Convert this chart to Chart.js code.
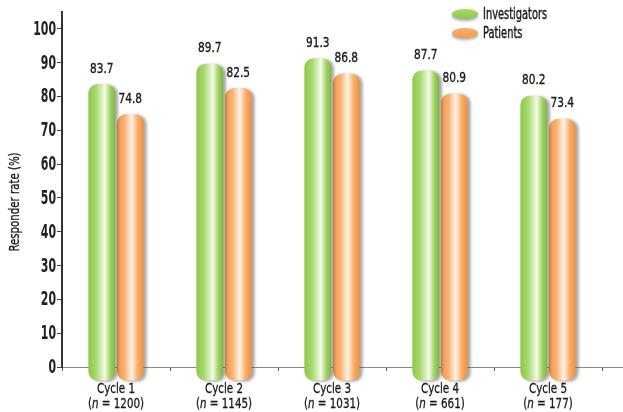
<!DOCTYPE html>
<html>
<head>
<meta charset="utf-8">
<script src="https://cdn.jsdelivr.net/npm/chart.js@4/dist/chart.umd.min.js"></script>
<style>
  html, body { margin: 0; padding: 0; background: #fff; }
  #wrap { width: 623px; height: 412px; position: relative; }
</style>
</head>
<body>
<div id="wrap"><canvas id="c" width="623" height="412"></canvas></div>
<script>
// Responder rates per treatment cycle
const cycles = ['Cycle 1', 'Cycle 2', 'Cycle 3', 'Cycle 4', 'Cycle 5'];
const sampleSizes = [1200, 1145, 1031, 661, 177];
const investigators = [83.7, 89.7, 91.3, 87.7, 80.2];
const patients = [74.8, 82.5, 86.8, 80.9, 73.4];
const yTicks = [0, 10, 20, 30, 40, 50, 60, 70, 80, 90, 100];
const yTitle = 'Responder rate (%)';

const FONT = "'DejaVu Sans Condensed', 'DejaVu Sans', sans-serif";

// Draws text squeezed horizontally to get a narrow, tall letterform
function narrowText(c, text, x, y, font, sx, align, color, weight) {
  c.save();
  c.font = font;
  c.fillStyle = color || '#222';
  c.strokeStyle = color || '#222';
  c.textBaseline = 'middle';
  c.textAlign = 'left';
  const w = c.measureText(text).width * sx;
  let x0 = x;
  if (align === 'center') x0 = x - w / 2;
  else if (align === 'right') x0 = x - w;
  c.translate(x0, y);
  c.scale(sx, 1);
  c.fillText(text, 0, 0);
  if (weight) { c.lineWidth = weight; c.strokeText(text, 0, 0); }
  c.restore();
  return w;
}
function narrowWidth(c, text, font, sx) {
  c.save(); c.font = font; const w = c.measureText(text).width * sx; c.restore(); return w;
}

// Horizontal shading that gives each bar a cylindrical look
function tubeFill(ctx, stops, fallback) {
  const el = ctx.element;
  if (!el || el.x === undefined || !isFinite(el.x) || !el.width) return fallback;
  const c = ctx.chart.ctx;
  const x0 = el.x - el.width / 2, x1 = el.x + el.width / 2;
  const g = c.createLinearGradient(x0, 0, x1, 0);
  stops.forEach(s => g.addColorStop(s[0], s[1]));
  return g;
}
const greenStops = [[0, '#8cc84a'], [0.3, '#a9da70'], [0.62, '#f3fae9'], [0.82, '#a3d466'], [1, '#7cb93c']];
const orangeStops = [[0, '#f59a45'], [0.28, '#f8b172'], [0.55, '#fff3e6'], [0.78, '#f8ad68'], [1, '#ef913c']];

// Soft shadow to the right of the bars
const barShadow = {
  id: 'barShadow',
  beforeDatasetsDraw(chart) {
    const c = chart.ctx;
    c.save();
    c.shadowColor = 'rgba(60,60,60,0.45)';
    c.shadowOffsetX = 3;
    c.shadowOffsetY = 1;
    c.shadowBlur = 3;
  },
  afterDatasetsDraw(chart) { chart.ctx.restore(); }
};

// Tick labels, axis title, value labels, category labels and legend
const decorations = {
  id: 'decorations',
  afterDraw(chart) {
    const c = chart.ctx;
    const area = chart.chartArea;
    const ink = '#1a1a1a';
    c.save();
    // continue the baseline to the right edge
    c.strokeStyle = '#8a8a8a';
    c.lineWidth = 1;
    c.beginPath();
    c.moveTo(area.right, area.bottom + 0.5);
    c.lineTo(chart.width, area.bottom + 0.5);
    c.stroke();

    // y tick labels
    const ys = chart.scales.y;
    ys.ticks.forEach(t => {
      narrowText(c, String(t.value), area.left - 6, ys.getPixelForValue(t.value) + 1,
        'bold 19px ' + FONT, 0.64, 'right', '#222');
    });

    // y axis title
    c.save();
    c.translate(15, 202);
    c.rotate(-Math.PI / 2);
    narrowText(c, yTitle, 0, 0, '14px ' + FONT, 0.81, 'center', ink, 0.3);
    c.restore();

    // value labels
    chart.data.datasets.forEach((ds, di) => {
      chart.getDatasetMeta(di).data.forEach((el, i) => {
        narrowText(c, ds.data[i].toFixed(1), el.x, el.y - 15, '14px ' + FONT, 0.84, 'center', ink, 0.35);
      });
    });

    // category labels with sample size
    const xs = chart.scales.x;
    const f = '14px ' + FONT, fi = 'italic 14px ' + FONT, sx = 0.82;
    cycles.forEach((lab, i) => {
      const x = xs.getPixelForValue(i);
      narrowText(c, lab, x, area.bottom + 22, f, sx, 'center', ink, 0.3);
      const pre = '(', it = 'n', post = ' = ' + sampleSizes[i] + ')';
      const w1 = narrowWidth(c, pre, f, sx), w2 = narrowWidth(c, it, fi, sx), w3 = narrowWidth(c, post, f, sx);
      const s = x - (w1 + w2 + w3) / 2;
      narrowText(c, pre, s, area.bottom + 37, f, sx, 'left', ink, 0.3);
      narrowText(c, it, s + w1, area.bottom + 37, fi, sx, 'left', ink, 0.3);
      narrowText(c, post, s + w1 + w2, area.bottom + 37, f, sx, 'left', ink, 0.3);
    });

    // legend
    const items = [
      { label: chart.data.datasets[0].label, stops: greenStops, y: 14 },
      { label: chart.data.datasets[1].label, stops: orangeStops, y: 33 }
    ];
    items.forEach(it => {
      const cx = 465, rx = 13, ry = 5;
      c.save();
      c.shadowColor = 'rgba(80,80,80,0.5)';
      c.shadowOffsetY = 2;
      c.shadowBlur = 3;
      const g = c.createLinearGradient(0, it.y - ry, 0, it.y + ry);
      g.addColorStop(0, it.stops[1][1]);
      g.addColorStop(1, it.stops[0][1]);
      c.fillStyle = g;
      c.beginPath();
      c.ellipse(cx, it.y, rx, ry, 0, 0, Math.PI * 2);
      c.fill();
      c.restore();
      narrowText(c, it.label, 483, it.y + 1, '15px ' + FONT, 0.73, 'left', ink, 0.4);
    });
    c.restore();
  }
};

const chart = new Chart(document.getElementById('c'), {
  type: 'bar',
  data: {
    labels: cycles,
    datasets: [
      {
        label: 'Investigators',
        data: investigators,
        backgroundColor: ctx => tubeFill(ctx, greenStops, '#9ad05a')
      },
      {
        label: 'Patients',
        data: patients,
        backgroundColor: ctx => tubeFill(ctx, orangeStops, '#f7a452')
      }
    ]
  },
  options: {
    responsive: false,
    animation: false,
    layout: { padding: { left: 0, right: 21, top: 12, bottom: 0 } },
    datasets: {
      bar: {
        base: -4,
        clip: false,
        borderSkipped: false,
        borderRadius: 9,
        borderWidth: 0,
        categoryPercentage: 0.53,
        barPercentage: 0.93
      }
    },
    plugins: {
      legend: { display: false },
      tooltip: { enabled: false }
    },
    scales: {
      x: {
        offset: true,
        grid: {
          display: true,
          offset: true,
          drawOnChartArea: false,
          drawTicks: true,
          tickLength: 4,
          color: '#555'
        },
        border: { display: true, color: '#8a8a8a', width: 1 },
        ticks: { display: false },
        afterFit: s => { s.height = 45; }
      },
      y: {
        min: 0,
        max: 105,
        afterBuildTicks: s => { s.ticks = yTicks.map(v => ({ value: v })); },
        grid: {
          drawOnChartArea: false,
          drawTicks: true,
          tickLength: 5,
          color: '#444'
        },
        border: { display: true, color: '#333', width: 2 },
        ticks: { display: false },
        afterFit: s => { s.width = 62; }
      }
    }
  },
  plugins: [barShadow, decorations]
});
// second pass so the shading can use the laid-out bar geometry
chart.update();
</script>
</body>
</html>
